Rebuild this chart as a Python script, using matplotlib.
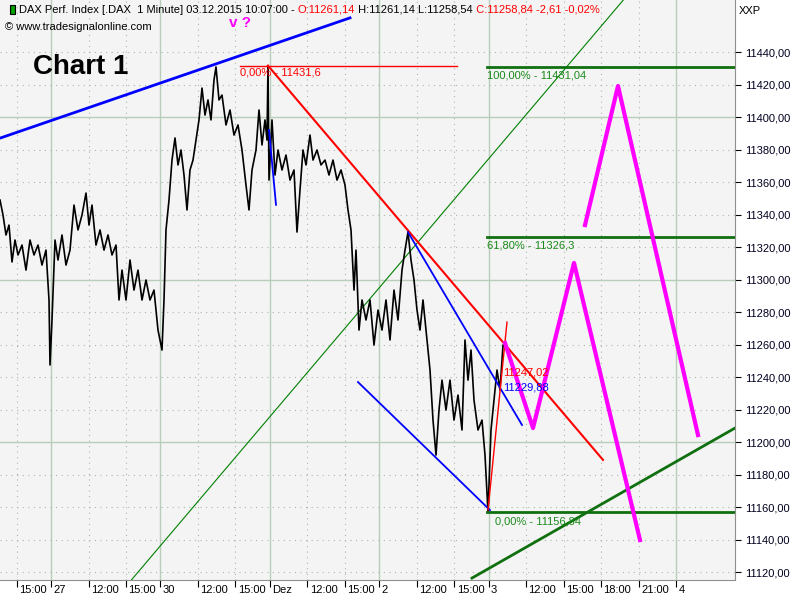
import numpy as np
import matplotlib
matplotlib.use("Agg")
import matplotlib.pyplot as plt
from matplotlib.patches import Rectangle

plt.rcParams["font.family"] = ["Liberation Sans", "DejaVu Sans"]

# %% data: x axis = trading hours since 27.11 09:00 (one session ~8.75 h)
t_hours = [-4.08, -3.84, -3.60, -3.36, -3.12, -2.88, -2.64, -2.32, -2.00, -1.68,
           -1.36, -1.04, -0.72, -0.40, -0.16, -0.08, 0.08, 0.32, 0.56, 0.88,
           1.20, 1.52, 1.84, 2.16, 2.48, 2.80, 3.04, 3.28, 3.60, 3.92,
           4.24, 4.56, 4.88, 5.20, 5.44, 5.68, 6.00, 6.32, 6.64, 6.96,
           7.28, 7.60, 7.92, 8.24, 8.56, 8.88, 9.04, 9.20, 9.44, 9.68,
           9.92, 10.16, 10.40, 10.64, 10.88, 11.12, 11.36, 11.60, 11.84, 12.08,
           12.32, 12.56, 12.80, 13.04, 13.20, 13.44, 13.68, 14.00, 14.32, 14.64,
           14.96, 15.28, 15.60, 15.84, 16.08, 16.40, 16.64, 16.88, 17.12, 17.28,
           17.36, 17.44, 17.68, 17.92, 18.16, 18.48, 18.80, 19.12, 19.44, 19.68,
           19.92, 20.16, 20.40, 20.72, 20.96, 21.28, 21.60, 21.92, 22.24, 22.56,
           22.88, 23.20, 23.52, 23.76, 24.00, 24.24, 24.40, 24.64, 24.88, 25.20,
           25.52, 25.84, 26.16, 26.48, 26.80, 27.12, 27.44, 27.76, 28.08, 28.32,
           28.56, 28.80, 29.04, 29.28, 29.52, 29.76, 30.08, 30.32, 30.56, 30.80,
           31.04, 31.28, 31.60, 31.92, 32.24, 32.56, 32.88, 33.12, 33.36, 33.60,
           33.84, 34.16, 34.48, 34.72, 34.96, 35.20, 35.44, 35.68, 35.92, 36.16,
           36.32]
price = [11348.9, 11339.7, 11327.4, 11333.5, 11310.8, 11324.3, 11315.1, 11321.2, 11305.8, 11324.3,
         11315.1, 11321.2, 11308.9, 11318.1, 11287.4, 11247.4, 11275.1, 11324.3, 11312.0, 11327.4,
         11308.9, 11318.1, 11345.8, 11330.5, 11339.7, 11353.2, 11333.5, 11345.8, 11321.2, 11330.5,
         11318.1, 11327.4, 11315.1, 11321.2, 11287.4, 11305.8, 11287.4, 11312.0, 11293.5, 11305.8,
         11287.4, 11299.7, 11287.4, 11293.5, 11268.9, 11256.6, 11287.4, 11330.5, 11348.9, 11373.5,
         11387.1, 11370.5, 11379.7, 11364.3, 11342.8, 11367.4, 11373.5, 11385.8, 11398.2, 11417.8,
         11401.2, 11410.5, 11398.2, 11422.8, 11430.8, 11410.5, 11413.5, 11395.1, 11404.3, 11388.9,
         11395.1, 11379.7, 11358.1, 11342.8, 11367.4, 11379.7, 11404.3, 11382.8, 11398.2, 11385.8,
         11431.6, 11361.2, 11398.2, 11364.3, 11379.7, 11367.4, 11376.6, 11361.2, 11367.4, 11329.2,
         11355.1, 11379.7, 11370.5, 11388.9, 11373.5, 11379.7, 11370.5, 11373.5, 11364.3, 11373.5,
         11361.2, 11367.4, 11358.1, 11342.8, 11330.5, 11293.5, 11318.1, 11268.9, 11287.4, 11275.1,
         11287.4, 11259.7, 11281.2, 11268.9, 11287.4, 11262.8, 11293.5, 11275.1, 11305.8, 11318.1,
         11329.2, 11312.0, 11299.7, 11281.2, 11268.9, 11287.4, 11262.8, 11244.3, 11213.5, 11192.0,
         11219.7, 11238.1, 11219.7, 11238.1, 11213.5, 11228.9, 11207.4, 11262.8, 11238.1, 11256.6,
         11225.8, 11207.4, 11213.5, 11192.0, 11156.8, 11207.4, 11225.8, 11244.3, 11232.0, 11259.7,
         11258.8]

tick_pos = [-2.75, 0, 3, 6, 8.75, 11.75, 14.75, 17.5, 20.5, 23.5, 26.25,
            29.25, 32.25, 35, 38, 41, 44, 47, 50]
tick_lab = ["15:00", "27", "12:00", "15:00", "30", "12:00", "15:00", "Dez", "12:00",
            "15:00", "2", "12:00", "15:00", "3", "12:00", "15:00", "18:00", "21:00", "4"]
y_ticks = list(range(11120, 11441, 20))

# drawing tools
top_trend_t = [-4.08, 23.92]
top_trend_p = [11387, 11461]
red_trend_t = [17.36, 44.16]
red_trend_p = [11431.6, 11189]
red_fib_t = [15.12, 32.48]
red_fib_p = 11431.6
fib_start = 34.88
fib_levels = [11431.04, 11326.3, 11156.84]
fib_labels = ["100,00% - 11431,04", "61,80% - 11326,3", "0,00% - 11156,84"]
green_thin_t = [0.0, 54.72]
green_thin_p = [11056.8, 11553.0]
green_thick_t = [33.68, 54.72]
green_thick_p = [11116.3, 11208.6]
blue_up_t = [28.56, 37.68]
blue_up_p = [11329.2, 11210.5]
blue_lo_t = [24.56, 35.12]
blue_lo_p = [11236.9, 11158.1]
blue_short_t = [17.44, 18.0]
blue_short_p = [11392, 11346]
red_thin_t = [34.96, 36.48]
red_thin_p = [11158.1, 11273.8]
proj1_t = [36.32, 38.56, 41.84, 47.12]
proj1_p = [11260.9, 11208.6, 11310.2, 11139.7]
proj2_t = [42.72, 45.36, 51.76]
proj2_p = [11333.5, 11419.1, 11204.3]

# %% figure
fig = plt.figure(figsize=(8, 6), dpi=100, facecolor="white")
ax = fig.add_axes([0, 20 / 600, 735 / 800, 580 / 600])
ax.set_facecolor("#f4f4f4")
ax.set_xlim(-4.08, 54.72)
ax.set_ylim(11115.1, 11472)

# grid
for p, lab in zip(tick_pos, tick_lab):
    if ":" in lab:
        ax.axvline(p, color="#a8b8a8", lw=0.8, ls=(0, (1, 4)), zorder=0)
    else:
        ax.axvline(p, color="#b8ceb8", lw=1, zorder=0)
for v in y_ticks:
    if v % 100 == 0:
        ax.axhline(v, color="#b8ceb8", lw=1, zorder=0)
    else:
        ax.axhline(v, color="#a8b8a8", lw=0.8, ls=(0, (1, 4)), zorder=0)

# price
ax.plot(t_hours, price, color="black", lw=1.2, zorder=3)

# lines
ax.plot(top_trend_t, top_trend_p, color="#0000ff", lw=2, zorder=4)
ax.plot(red_trend_t, red_trend_p, color="#ff0000", lw=1.5, zorder=4)
ax.plot(red_fib_t, [red_fib_p, red_fib_p], color="#ff0000", lw=1, zorder=4)
ax.text(red_fib_t[0], red_fib_p - 4, "0,00% - 11431,6", color="#ff0000", fontsize=8,
        va="center", ha="left", zorder=5)
for lev, lab in zip(fib_levels, fib_labels):
    ax.plot([fib_start, 54.72], [lev, lev], color="#107010", lw=2, zorder=4)
    x0 = fib_start + (0.6 if lev < 11200 else 0)
    ax.text(x0, lev - 5.5, lab, color="#1a8a1a", fontsize=8, va="center", ha="left", zorder=5)
ax.plot(green_thin_t, green_thin_p, color="#008000", lw=0.8, zorder=2)
ax.plot(green_thick_t, green_thick_p, color="#107010", lw=2, zorder=4)
ax.plot(blue_up_t, blue_up_p, color="#0000ff", lw=1.3, zorder=4)
ax.plot(blue_lo_t, blue_lo_p, color="#0000ff", lw=1.3, zorder=4)
ax.plot(blue_short_t, blue_short_p, color="#0000ff", lw=1.3, zorder=4)
ax.plot(red_thin_t, red_thin_p, color="#ff0000", lw=1, zorder=4)
ax.plot(proj1_t, proj1_p, color="#ff00ff", lw=3, zorder=5)
ax.plot(proj2_t, proj2_p, color="#ff00ff", lw=3, zorder=5)
ax.text(36.16, 11243, "11247,02", color="#ff0000", fontsize=8, va="center", zorder=6)
ax.text(36.16, 11233.8, "11229,88", color="#0000ff", fontsize=8, va="center", zorder=6)

# axes
ax.set_xticks(tick_pos)
ax.set_xticklabels([])
ax.tick_params(axis="x", direction="out", length=5, color="black")
for p, lab in zip(tick_pos, tick_lab):
    ax.text(p + 0.2, -0.018, lab, transform=ax.get_xaxis_transform(), fontsize=8,
            ha="left", va="center", clip_on=False)
ax.yaxis.tick_right()
ax.set_yticks(y_ticks)
ax.set_yticklabels(["%d,00" % v for v in y_ticks], fontsize=8, color="#000020")
ax.tick_params(axis="y", direction="out", length=4, pad=3, color="black")
for s in ["top", "left"]:
    ax.spines[s].set_visible(False)
ax.spines["right"].set_color("#909090")
ax.spines["bottom"].set_color("#909090")

# header texts
fig.patches.append(Rectangle((10 / 800, 1 - 14 / 600), 5 / 800, 9 / 600, transform=fig.transFigure,
                             facecolor="#00a000", edgecolor="black", lw=0.8))
t1 = fig.text(19 / 800, 1 - 10 / 600, "DAX Perf. Index [.DAX  1 Minute] 03.12.2015 10:07:00 - ",
              fontsize=8, va="center")
t2 = ax.annotate("O:11261,14", xy=(1, 0), xycoords=t1, va="bottom", color="#ff0000", fontsize=8)
t3 = ax.annotate(" H:11261,14 L:11258,54", xy=(1, 0), xycoords=t2, va="bottom", fontsize=8)
ax.annotate(" C:11258,84 -2,61 -0,02%", xy=(1, 0), xycoords=t3, va="bottom", color="#ff0000", fontsize=8)
fig.text(5 / 800, 1 - 27 / 600, "\u00a9 www.tradesignalonline.com", fontsize=8, va="center")
fig.text(229 / 800, 1 - 23 / 600, "v ?", fontsize=11, fontweight="bold", color="#ff00ff", va="center")
fig.text(33 / 800, 1 - 67 / 600, "Chart 1", fontsize=20, fontweight="bold", va="center")
fig.text(739 / 800, 1 - 11 / 600, "XXP", fontsize=8, va="center")

plt.savefig("out.png", dpi=100)
